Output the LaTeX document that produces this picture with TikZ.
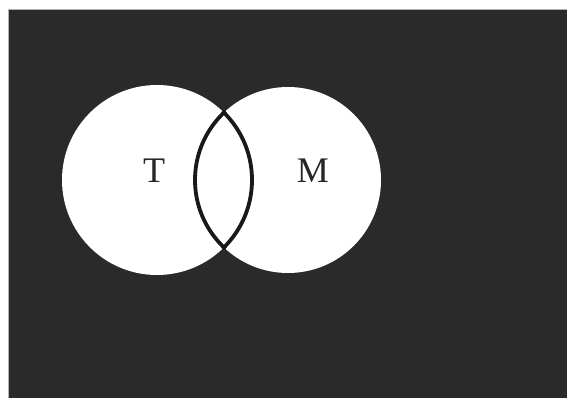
\documentclass[tikz,border=0pt]{standalone}
\usepackage{fontspec}
\setmainfont{Liberation Serif}
\definecolor{bgdark}{HTML}{2A2A2A}
\tikzset{
  setdisc/.style = {circle, fill = white, inner sep = 0pt},
  rim/.style = {line width = 3.8pt, black!90},
  setlabel/.style = {font = \fontsize{36}{36}\selectfont, text = black!85}
}
\begin{document}
\begin{tikzpicture}[x = 1pt, y = -1pt]
\useasboundingbox (0,0) rectangle (567,398);
\fill[white] (0,0) rectangle (567,398);
\filldraw[fill = bgdark, draw = gray!60] (8.5,9.5) rectangle (568,399);
% the two sets
\node[setdisc, minimum size = 190pt] (tset) at (157,180) {};
\node[setdisc, minimum size = 186pt] (mset) at (288,180) {};
% outline of the overlap
\begin{scope}
\clip (mset.center) circle [radius = 95pt];
\draw[rim] (tset.center) circle [radius = 95pt];
\end{scope}
\begin{scope}
\clip (tset.center) circle [radius = 97pt];
\draw[rim] (mset.center) circle [radius = 93pt];
\end{scope}
\node[setlabel] (tlabel) at (154,170.5) {T};
\node[setlabel] (mlabel) at (313,170.5) {M};
\end{tikzpicture}
\end{document}
